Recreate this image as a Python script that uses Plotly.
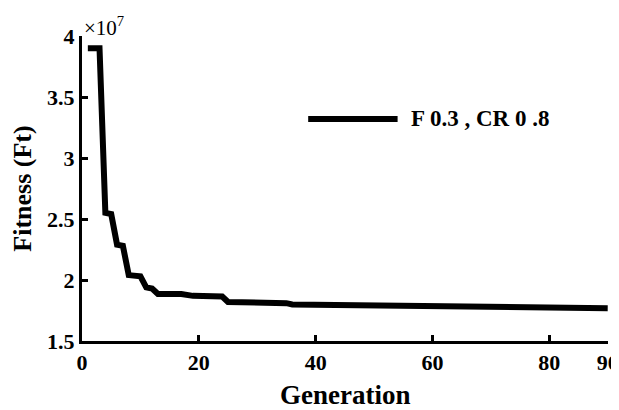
import plotly.graph_objects as go

generation = [1, 2, 3, 4, 5, 6, 7, 8, 10, 11, 12, 13, 17, 19, 24, 25, 28, 29, 35, 36, 44, 50, 61, 72, 90]
fitness_e7 = [3.90, 3.90, 3.90, 2.55, 2.54, 2.29, 2.28, 2.04, 2.03, 1.94, 1.93, 1.885, 1.885, 1.87, 1.865,
              1.82, 1.82, 1.815, 1.81, 1.80, 1.795, 1.788, 1.777, 1.772, 1.768]
x_ticks = [0, 20, 40, 60, 80, 90]
y_ticks = [1.5, 2, 2.5, 3, 3.5, 4]
y_tick_labels = ["1.5", "2", "2.5", "3", "3.5", "4"]
legend_label = "F 0.3 , CR 0 .8"
x_title = "Generation"
y_title = "Fitness (Ft)"

FONT = "Liberation Serif"

fig = go.Figure()
fig.add_trace(go.Scatter(x=generation, y=fitness_e7, mode="lines",
                         line=dict(color="black", width=6), name=legend_label,
                         showlegend=False, cliponaxis=False))

axis_common = dict(showline=True, linecolor="black", linewidth=3, ticks="inside",
                   ticklen=6, tickwidth=3, tickcolor="black", showgrid=False,
                   zeroline=False, mirror=False, automargin=False, ticklabeloverflow="allow",
                   tickfont=dict(family=FONT, size=22, color="black", weight="bold"))

fig.update_xaxes(range=[0, 90.05], tickvals=x_ticks, ticktext=["<b>%d</b>" % v for v in x_ticks],
                 **axis_common)
fig.update_yaxes(range=[1.5, 4], tickvals=y_ticks, ticktext=["<b>%s</b>" % t for t in y_tick_labels],
                 title=dict(text="<b>" + y_title + "</b>", font=dict(family=FONT, size=26, color="black"), standoff=10),
                 **axis_common)

# x-axis title placed as annotation (exact vertical position)
fig.add_annotation(xref="paper", yref="paper", x=0.5, y=-0.178, xanchor="center", yanchor="middle",
                   text="<b>" + x_title + "</b>", showarrow=False,
                   font=dict(family=FONT, size=27, color="black"))

# legend drawn manually (long sample line)
fig.add_shape(type="line", xref="paper", yref="paper", x0=0.43, x1=0.60, y0=0.728, y1=0.728,
              line=dict(color="black", width=6))
fig.add_annotation(xref="paper", yref="paper", x=0.622, y=0.728, xanchor="left", yanchor="middle",
                   text="<b>" + legend_label + "</b>", showarrow=False,
                   font=dict(family=FONT, size=23, color="black"))
# exponent label
fig.add_annotation(xref="paper", yref="paper", x=0.0, y=1.0, xanchor="left", yanchor="bottom",
                   text="×10<sup>7</sup>", showarrow=False, yshift=-6,
                   font=dict(family=FONT, size=21, color="black"))

# page body has an 8px margin, so the figure is made 8px smaller and shifted accordingly
fig.update_layout(width=611, height=402, margin=dict(l=74, r=11, t=28, b=69),
                  plot_bgcolor="white", paper_bgcolor="white")

fig.write_html("out.html")
